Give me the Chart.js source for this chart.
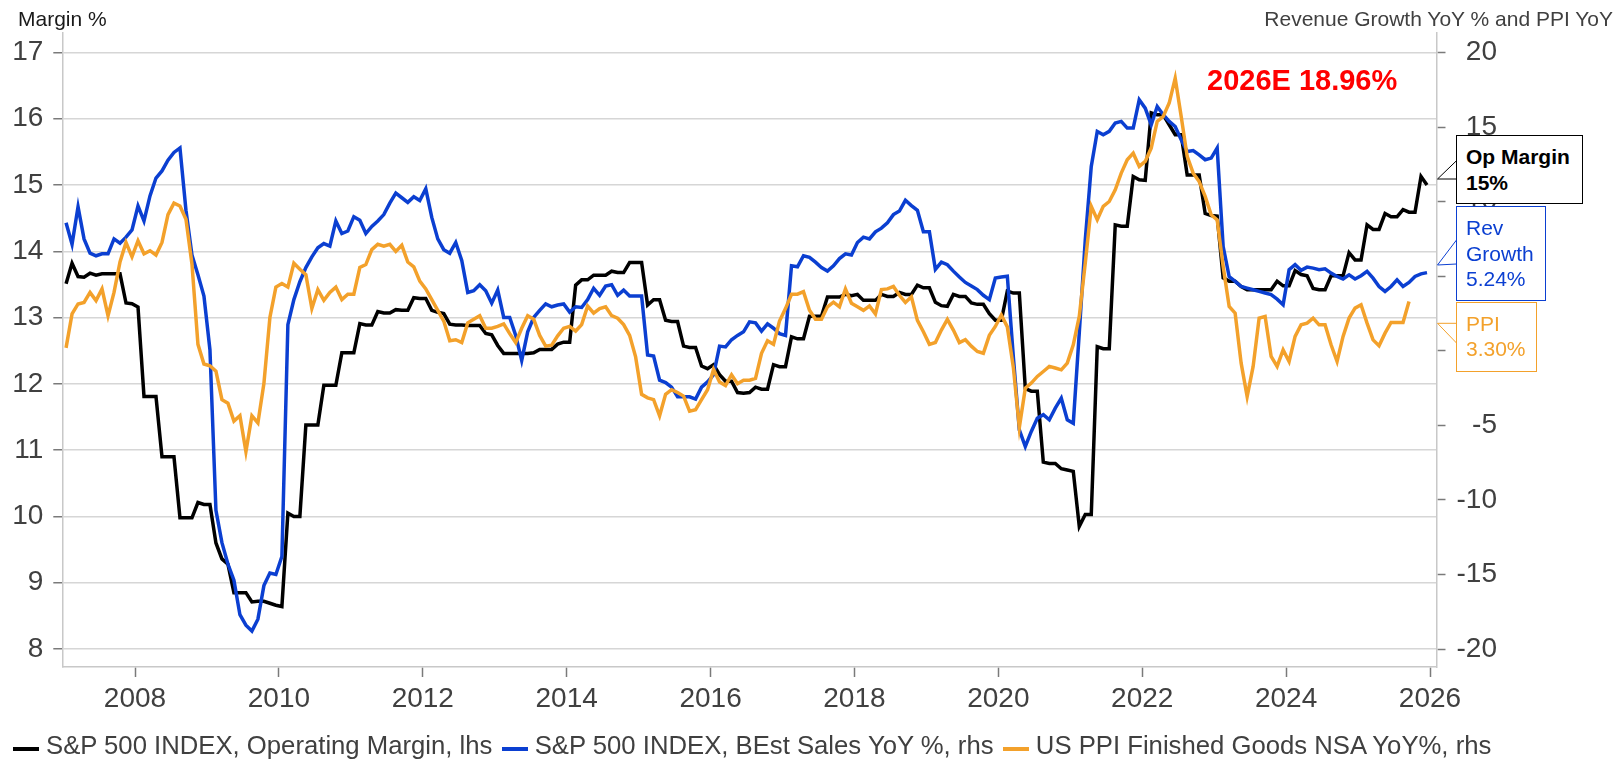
<!DOCTYPE html>
<html><head><meta charset="utf-8">
<script src="https://cdn.jsdelivr.net/npm/chart.js@4.4.1/dist/chart.umd.min.js"></script>
<style>
html,body{margin:0;padding:0;background:#fff;overflow:hidden}
#wrap{position:relative;width:1621px;height:760px;font-family:'Liberation Sans',Arial,sans-serif}
#c{position:absolute;left:0;top:0}
.t{position:absolute;white-space:nowrap;line-height:1}
.box{position:absolute;box-sizing:border-box;background:#fff;border:1px solid;padding:8px 0 0 9px;font-size:21px;line-height:25.5px;white-space:nowrap}
#tails{position:absolute;left:0;top:0}
#legend{position:absolute;left:13px;top:733.2px;display:flex;align-items:flex-start;font-size:25.7px;color:#404040;line-height:1;white-space:nowrap}
.sw{display:inline-block;width:26px;height:4px;margin-top:13.8px;margin-right:7px}
.lt{margin-right:9.3px}
</style></head>
<body><div id="wrap">
<canvas id="c" width="1621" height="760"></canvas>
<div class="t" style="left:18px;top:8.2px;font-size:21px;color:#1a1a1a">Margin %</div>
<div class="t" style="right:8px;top:8.2px;font-size:21px;color:#404040">Revenue Growth YoY % and PPI YoY</div>
<div class="t" style="left:1207px;top:65.5px;font-size:29px;font-weight:bold;color:#ff0000">2026E 18.96%</div>
<svg id="tails" width="1621" height="760"></svg>
<div class="box" id="bOp" style="left:1456px;top:135px;width:127.3px;height:69.3px;border-color:#000;color:#000;font-weight:bold"></div>
<div class="box" id="bRev" style="left:1456px;top:206px;width:89.7px;height:95px"></div>
<div class="box" id="bPpi" style="left:1456px;top:301.7px;width:81.3px;height:70.3px"></div>
<div id="legend"></div>
</div>
<script>
const startYear = 2007;
const opMargin = [
13.51,13.82,13.62,13.61,13.67,13.64,13.66,13.66,13.66,13.66,13.22,13.21,
13.16,11.81,11.81,11.81,10.90,10.90,10.90,9.98,9.98,9.98,10.21,10.18,
10.18,9.60,9.36,9.28,8.85,8.85,8.85,8.71,8.72,8.72,8.69,8.66,
8.64,10.05,10.00,10.00,11.38,11.38,11.38,11.98,11.98,11.98,12.47,12.47,
12.47,12.91,12.89,12.89,13.09,13.07,13.07,13.12,13.11,13.11,13.30,13.29,
13.29,13.11,13.08,13.06,12.90,12.89,12.89,12.88,12.88,12.88,12.76,12.74,
12.58,12.46,12.46,12.46,12.46,12.46,12.47,12.52,12.52,12.52,12.60,12.63,
12.63,13.49,13.57,13.57,13.64,13.64,13.64,13.70,13.68,13.68,13.83,13.83,
13.83,13.19,13.27,13.27,12.96,12.94,12.94,12.57,12.55,12.55,12.27,12.23,
12.29,12.14,12.04,12.04,11.87,11.86,11.87,11.95,11.92,11.92,12.29,12.26,
12.26,12.71,12.68,12.68,13.02,13.02,13.02,13.31,13.31,13.31,13.35,13.33,
13.35,13.26,13.26,13.26,13.35,13.32,13.32,13.38,13.35,13.35,13.49,13.45,
13.45,13.23,13.18,13.17,13.35,13.32,13.32,13.22,13.20,13.20,13.06,12.96,
12.96,13.40,13.37,13.37,11.93,11.89,11.89,10.82,10.80,10.80,10.72,10.70,
10.68,9.85,10.03,10.03,12.56,12.53,12.53,14.40,14.38,14.38,15.13,15.08,
15.07,16.09,16.06,16.06,15.91,15.76,15.76,15.15,15.15,15.15,14.57,14.54,
14.53,13.60,13.55,13.55,13.47,13.42,13.42,13.42,13.42,13.42,13.55,13.48,
13.48,13.71,13.65,13.63,13.44,13.42,13.42,13.63,13.63,13.63,13.98,13.87,
13.87,14.40,14.33,14.33,14.57,14.52,14.52,14.63,14.59,14.59,15.13,15.00
];
const revGrowth = [
8.58,7.14,9.66,7.50,6.54,6.37,6.50,6.50,7.50,7.21,7.62,8.10,
9.71,8.70,10.38,11.58,12.06,12.78,13.30,13.60,9.42,6.42,5.10,3.67,
0.07,-10.70,-12.87,-14.30,-15.39,-17.70,-18.40,-18.80,-18.00,-15.75,-14.90,-15.00,
-13.80,1.75,3.43,4.63,5.58,6.30,6.90,7.19,7.02,8.70,7.86,8.03,
8.99,8.75,7.86,8.34,8.70,9.13,9.90,10.57,10.26,9.95,10.33,10.07,
10.86,8.94,7.50,6.78,6.54,7.26,6.06,3.91,4.03,4.43,4.03,3.19,
4.07,2.23,2.23,1.03,-0.65,1.27,2.23,2.71,3.14,2.95,3.07,3.14,
2.59,2.95,2.90,3.43,4.19,3.72,4.34,4.43,3.72,4.07,3.67,3.67,
3.67,-0.29,-0.36,-1.97,-2.13,-2.44,-3.09,-3.09,-3.09,-3.24,-2.44,-2.09,
-1.61,0.31,0.26,0.74,1.03,1.27,1.94,1.87,1.32,1.80,1.51,1.15,
1.03,5.70,5.63,6.37,6.26,5.94,5.58,5.34,5.70,6.18,6.50,6.42,
7.26,7.62,7.50,7.98,8.22,8.58,9.13,9.37,10.09,9.73,9.42,7.98,
7.98,5.46,5.94,5.77,5.34,4.94,4.58,4.34,4.10,3.72,3.43,4.87,
4.94,5.00,-0.40,-5.30,-6.42,-5.41,-4.52,-4.29,-4.63,-3.85,-3.18,-4.63,
-4.86,1.20,7.44,12.36,14.71,14.48,14.71,15.27,15.38,14.93,14.93,16.83,
16.27,15.15,16.38,15.83,15.38,15.04,14.15,13.36,13.43,13.14,12.81,12.92,
13.59,6.99,4.98,4.65,4.31,4.20,4.09,3.98,3.87,3.76,3.46,3.08,
5.43,5.77,5.39,5.61,5.54,5.43,5.50,5.21,4.98,4.81,5.09,4.81,
5.03,5.32,4.87,4.31,3.98,4.31,4.76,4.31,4.58,4.98,5.16,5.24
];
const ppi = [
0.19,2.47,3.14,3.24,3.91,3.36,4.15,2.35,3.91,5.95,7.26,6.30,
7.38,6.50,6.71,6.42,7.26,9.13,9.90,9.71,8.82,5.82,0.43,-0.89,
-1.01,-1.37,-3.28,-3.52,-4.72,-4.36,-6.76,-4.36,-4.84,-2.20,2.23,4.27,
4.51,4.27,5.87,5.47,5.10,2.83,4.10,3.38,3.91,4.27,3.43,3.79,
3.79,5.59,5.78,6.78,7.14,7.02,7.14,6.66,7.07,5.95,5.63,4.67,
4.15,3.43,2.71,1.99,0.67,0.74,0.55,1.87,2.11,2.35,1.51,1.51,
1.63,1.80,1.15,0.55,1.51,2.35,2.11,1.03,0.31,0.37,1.00,1.51,
1.63,1.32,1.75,3.00,2.52,2.83,2.95,2.35,2.18,1.75,1.03,-0.41,
-2.92,-3.16,-3.28,-4.36,-2.92,-2.61,-2.80,-3.04,-4.05,-3.95,-3.28,-2.61,
-1.25,-2.09,-2.33,-1.61,-2.21,-1.97,-1.97,-1.85,-0.17,0.67,0.43,1.99,
2.83,3.79,3.79,3.96,2.71,2.11,2.11,2.95,3.26,2.95,4.15,3.19,
2.95,2.71,3.00,2.47,4.10,4.15,4.31,3.72,3.24,3.62,2.04,1.27,
0.43,0.55,1.39,2.11,1.39,0.55,0.74,0.31,-0.05,-0.17,1.03,1.63,
2.40,1.60,-1.10,-5.15,-2.51,-2.17,-1.72,-1.39,-1.05,-1.16,-1.28,-0.83,
0.40,2.30,5.88,9.68,8.78,9.68,10.01,10.79,11.91,12.81,13.25,12.36,
12.70,13.59,15.38,15.71,16.61,18.28,15.71,13.03,11.91,11.35,10.35,9.12,
8.78,5.65,2.97,2.52,-0.83,-3.07,-1.05,2.19,2.30,-0.38,-1.05,0.06,
-0.72,0.96,1.74,1.85,2.19,1.74,1.74,0.40,-0.72,0.96,2.19,2.86,
3.08,1.85,0.73,0.33,1.18,1.90,1.90,1.90,3.30
];
const leftTicks = [8,9,10,11,12,13,14,15,16,17];
const rightTicks = [-20,-15,-10,-5,0,5,10,15,20];
const yearTicks = [2008,2010,2012,2014,2016,2018,2020,2022,2024,2026];
const seriesNames = ['S&P 500 INDEX, Operating Margin, lhs','S&P 500 INDEX, BEst Sales YoY %, rhs','US PPI Finished Goods NSA YoY%, rhs'];
const seriesColors = ['#000000','#0b3fd1','#f3a12b'];

function toPoints(arr){ return arr.map((v,i)=>({x:startYear+(i+0.5)/12, y:v})); }

Chart.defaults.font.family = "'Liberation Sans', Arial, sans-serif";
const labelGray = '#404040', axisGray = '#c8c8c8', tickGray = '#7a7a7a';

new Chart(document.getElementById('c'), {
  type:'line',
  data:{datasets:[
    {label:seriesNames[0], data:toPoints(opMargin), yAxisID:'yL', borderColor:seriesColors[0], borderWidth:3.5, pointRadius:0, tension:0, order:3},
    {label:seriesNames[1], data:toPoints(revGrowth), yAxisID:'yR', borderColor:seriesColors[1], borderWidth:3.5, pointRadius:0, tension:0, order:2},
    {label:seriesNames[2], data:toPoints(ppi), yAxisID:'yR', borderColor:seriesColors[2], borderWidth:3.5, pointRadius:0, tension:0, order:1}
  ]},
  options:{
    responsive:false, animation:false, devicePixelRatio:1,
    layout:{padding:{top:33,right:124,left:0,bottom:0}},
    plugins:{legend:{display:false}, tooltip:{enabled:false}},
    scales:{
      x:{type:'linear', min:2006.9895, max:2026.0903,
         afterBuildTicks:s=>{s.ticks=yearTicks.map(v=>({value:v}));},
         ticks:{font:{size:28}, color:labelGray, padding:5, maxRotation:0, autoSkip:false, callback:v=>String(v)},
         grid:{drawOnChartArea:false, tickLength:10, tickColor:tickGray, tickWidth:1.5},
         border:{color:axisGray, width:1.5},
         afterFit:s=>{s.height=93;}},
      yL:{position:'left', min:7.7284, max:17.294,
         afterBuildTicks:s=>{s.ticks=leftTicks.map(v=>({value:v}));},
         ticks:{font:{size:28}, color:labelGray, padding:10},
         grid:{color:'#d6d6d6', lineWidth:1.5, tickLength:9, tickColor:tickGray, tickWidth:1.5},
         border:{color:axisGray, width:1.5},
         afterFit:s=>{s.width=62.3;}},
      yR:{position:'right', min:-21.207, max:21.308,
         afterBuildTicks:s=>{s.ticks=rightTicks.map(v=>({value:v}));},
         ticks:{font:{size:28}, color:labelGray, padding:10, crossAlign:'far'},
         grid:{drawOnChartArea:false, tickLength:9, tickColor:tickGray, tickWidth:1.5},
         border:{color:axisGray, width:1.5},
         afterFit:s=>{s.width=60.5;}}
    }
  }
});

// callout boxes
const last = a => a[a.length-1];
document.getElementById('bOp').innerHTML = 'Op Margin<br>' + Math.round(last(opMargin)) + '%';
const bRev = document.getElementById('bRev');
bRev.innerHTML = 'Rev<br>Growth<br>' + last(revGrowth).toFixed(2) + '%';
bRev.style.borderColor = seriesColors[1]; bRev.style.color = seriesColors[1];
const bPpi = document.getElementById('bPpi');
bPpi.innerHTML = 'PPI<br>' + last(ppi).toFixed(2) + '%';
bPpi.style.borderColor = seriesColors[2]; bPpi.style.color = seriesColors[2];

// callout tails
const tails = [
  {pts:[[1456.5,160.7],[1437.5,179],[1456.5,179]], c:seriesColors[0]},
  {pts:[[1456.5,240],[1437.5,265],[1456.5,264]], c:seriesColors[1]},
  {pts:[[1456.5,343],[1437.5,323.3],[1456.5,323.3]], c:seriesColors[2]}
];
const svg = document.getElementById('tails');
tails.forEach(t=>{
  const p = t.pts.map(q=>q.join(',')).join(' ');
  svg.insertAdjacentHTML('beforeend', `<polygon points="${p}" fill="#fff" stroke="none"/><polyline points="${p}" fill="none" stroke="${t.c}" stroke-width="1"/>`);
});

// legend
const lg = document.getElementById('legend');
seriesNames.forEach((n,i)=>{
  lg.insertAdjacentHTML('beforeend', `<span class="sw" style="background:${seriesColors[i]}"></span><span class="lt">${n.replace('&','&amp;')}</span>`);
});
</script>
</body></html>
